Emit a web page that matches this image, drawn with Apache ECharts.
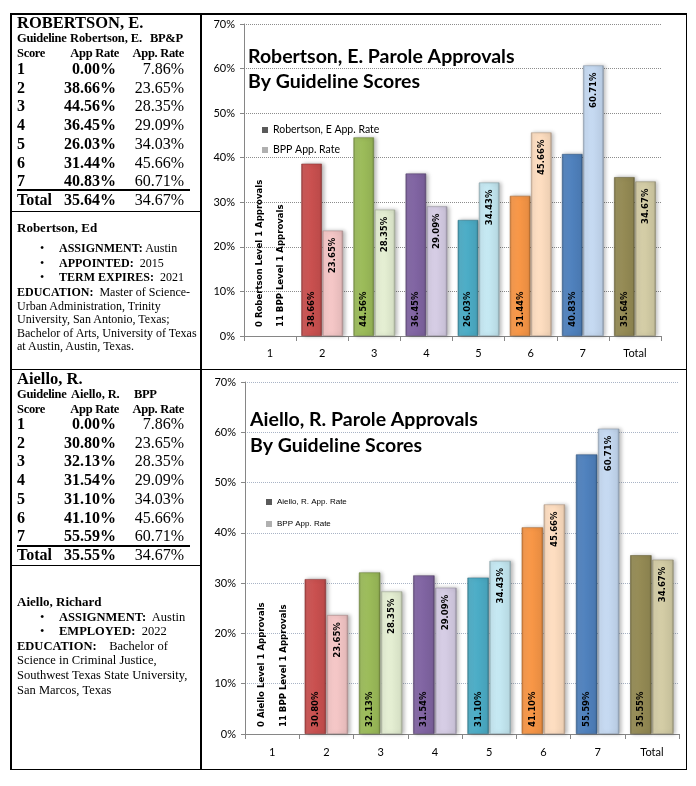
<!DOCTYPE html>
<html><head><meta charset="utf-8">
<script src="https://cdn.jsdelivr.net/npm/echarts@6/dist/echarts.min.js"></script>
<style>
html,body{margin:0;padding:0;background:#fff;}
#page{position:relative;width:696px;height:786px;overflow:hidden;font-family:'Liberation Serif','Times New Roman',serif;color:#000;}
.ln{position:absolute;background:#000;}
.t{position:absolute;white-space:nowrap;height:20px;line-height:20px;}
.chart{position:absolute;}
</style></head>
<body><div id="page">
<div id="c1" class="chart" style="left:201px;top:14px;width:485px;height:355px;"></div>
<div id="c2" class="chart" style="left:201px;top:370px;width:485px;height:399px;"></div>
</div>
<script>
// ---------- data ----------
const categories = ['1','2','3','4','5','6','7','Total'];
const robertsonRate = [0, 38.66, 44.56, 36.45, 26.03, 31.44, 40.83, 35.64];
const aielloRate    = [0, 30.80, 32.13, 31.54, 31.10, 41.10, 55.59, 35.55];
const bppChartRate  = [0, 23.65, 28.35, 29.09, 34.43, 45.66, 60.71, 34.67];
const bppTableRate  = [7.86, 23.65, 28.35, 29.09, 34.03, 45.66, 60.71, 34.67];
const yMin = 0, yMax = 70, yStep = 10;
const robertsonNotes = ['0 Robertson Level 1 Approvals', '11 BPP Level 1 Approvals'];
const aielloNotes = ['0 Aiello Level 1 Approvals', '11 BPP Level 1 Approvals'];
const darkColors  = ['#C9504F','#C9504F','#9BBB59','#8064A2','#4BACC6','#F79646','#4F81BD','#948A54'];
const lightColors = ['#F4C6C6','#F4C6C6','#E4EED2','#D5CCE4','#C4E8F2','#FDDDC0','#C5D9F1','#D3CCA5'];

// ---------- left column ----------
const page = document.getElementById('page');
function line(x,y,w,h){const d=document.createElement('div');d.className='ln';Object.assign(d.style,{left:x+'px',top:y+'px',width:w+'px',height:h+'px'});page.appendChild(d);}
function txt(html,x,cy,size,opts){
  opts=opts||{};
  const d=document.createElement('div');d.className='t';d.innerHTML=html;
  d.style.top=(cy-10)+'px';d.style.fontSize=size+'px';
  if(opts.right!==undefined){d.style.right=(696-opts.right)+'px';}else{d.style.left=x+'px';}
  if(opts.bold)d.style.fontWeight='bold';
  if(opts.ls)d.style.letterSpacing=opts.ls+'px';
  page.appendChild(d);
}
// frame
line(10,13,677,1.5); line(10,768.5,677,1.5); line(10,13,1.5,757); line(685.5,13,1.5,757);
line(200,13,1.5,757); line(10,368.5,677,1.5); line(10,210.5,191,1.5); line(10,564.5,191,1.5);

function table(cfg){
  txt(cfg.name,17,cfg.nameY,16.5,{bold:true});
  txt(cfg.hdr[0],17,cfg.hdrY,12.5,{bold:true,ls:-0.3});
  txt(cfg.hdr[1],cfg.hdrX[1],cfg.hdrY,12.5,{bold:true,ls:-0.1});
  txt(cfg.hdr[2],cfg.hdrX[2],cfg.hdrY,12.5,{bold:true,ls:-0.3});
  txt('Score',17,cfg.hdrY+15,12.5,{bold:true,ls:-0.3});
  txt('App Rate',0,cfg.hdrY+15,12.5,{bold:true,ls:-0.3,right:119});
  txt('App. Rate',0,cfg.hdrY+15,12.5,{bold:true,ls:-0.3,right:184});
  for(let i=0;i<categories.length;i++){
    const y=cfg.rowY0+i*18.7;
    txt(categories[i],17,y,16,{bold:true});
    txt(cfg.rate[i].toFixed(2)+'%',0,y,16,{bold:true,right:116});
    txt(bppTableRate[i].toFixed(2)+'%',0,y,16,{right:184});
  }
  line(17,cfg.ruleY,173,2);
}
table({name:'ROBERTSON, E.',nameY:23,hdr:['Guideline','Robertson, E.','BP&amp;P'],hdrX:[17,70,150],hdrY:38,rowY0:69,ruleY:189,rate:robertsonRate});
table({name:'Aiello, R.',nameY:379,hdr:['Guideline','Aiello, R.','BPP'],hdrX:[17,71,134],hdrY:394,rowY0:424,ruleY:545,rate:aielloRate});

function bio(lines,size){
  lines.forEach(l=>{
    if(l.b){txt('&bull;',40,l.y,size);txt(l.h,59,l.y,size);}
    else txt(l.h,17,l.y,l.s||size,{bold:l.bold});
  });
}
bio([
 {y:228,h:'Robertson, Ed',bold:true,s:13},
 {y:248,b:1,h:'<b>ASSIGNMENT:</b> Austin'},
 {y:262.5,b:1,h:'<b>APPOINTED:</b>&nbsp; 2015'},
 {y:277,b:1,h:'<b>TERM EXPIRES:</b>&nbsp; 2021'},
 {y:292,h:'<b>EDUCATION:</b>&nbsp; Master of Science-'},
 {y:305.5,h:'Urban Administration, Trinity'},
 {y:319,h:'University, San Antonio, Texas;'},
 {y:332.5,h:'Bachelor of Arts, University of Texas'},
 {y:346,h:'at Austin, Austin, Texas.'}
],12);
bio([
 {y:602,h:'Aiello, Richard',bold:true,s:13},
 {y:617,b:1,h:'<b>ASSIGNMENT:</b>&nbsp; Austin'},
 {y:631,b:1,h:'<b>EMPLOYED:</b>&nbsp; 2022'},
 {y:645.5,h:'<b>EDUCATION:</b>&nbsp;&nbsp;&nbsp; Bachelor of'},
 {y:660,h:'Science in Criminal Justice,'},
 {y:675,h:'Southwest Texas State University,'},
 {y:690,h:'San Marcos, Texas'}
],12.5);

// ---------- charts ----------
function shade(hex,f){const n=parseInt(hex.slice(1),16);const c=[n>>16,(n>>8)&255,n&255].map(v=>f<0?Math.round(v*(1+f)):Math.round(v+(255-v)*f));return 'rgb('+c.join(',')+')';}
function fill(c){return new echarts.graphic.LinearGradient(0,0,1,0,[
  {offset:0,color:shade(c,-0.22)},{offset:0.1,color:shade(c,0.06)},{offset:0.5,color:c},{offset:0.9,color:shade(c,-0.06)},{offset:1,color:shade(c,-0.3)}]);}
const labelFont="'Liberation Sans Narrow','DejaVu Sans Condensed',sans-serif";
const clearItem={color:'rgba(0,0,0,0)',borderWidth:0,shadowBlur:0,shadowColor:'rgba(0,0,0,0)'};

function makeOption(cfg){
  const darkData=cfg.rate.map((v,i)=>i===0?{value:v,itemStyle:clearItem,label:{formatter:cfg.notes[0],fontSize:9.5}}:{value:v,itemStyle:{color:fill(darkColors[i]),borderColor:shade(darkColors[i],-0.3),borderWidth:0.6}});
  const lightData=bppChartRate.map((v,i)=>i===0?{value:v,itemStyle:clearItem,label:{formatter:cfg.notes[1],fontSize:9.5,position:'insideBottom',align:'left',distance:cfg.labDist}}:{value:v,itemStyle:{color:fill(lightColors[i]),borderColor:shade(lightColors[i],-0.3),borderWidth:0.6}});
  const lab={show:true,rotate:90,verticalAlign:'middle',fontFamily:labelFont,fontWeight:'bold',fontSize:9.5,color:'#000'};
  const shadow={shadowColor:'rgba(0,0,0,0.28)',shadowBlur:4,shadowOffsetX:2};
  return {
    animation:false,
    title:{text:cfg.title,left:cfg.titleLeft,top:cfg.titleTop,padding:0,textStyle:{fontFamily:'Lato',fontWeight:'bold',fontSize:cfg.titleSize,lineHeight:cfg.titleLH,color:'#000'}},
    legend:{orient:'vertical',left:cfg.legLeft,top:cfg.legTop,icon:'rect',itemWidth:6,itemHeight:6,itemGap:cfg.legGap,
      textStyle:{fontFamily:cfg.legFont,fontSize:cfg.legSize,color:'#000'},
      data:[{name:cfg.names[0],itemStyle:{color:'#5a5a5a'}},{name:cfg.names[1],itemStyle:{color:'#b0b0b0'}}]},
    grid:cfg.grid,
    xAxis:{type:'category',data:categories,
      axisLine:{lineStyle:{color:'#868686',width:1}},
      axisTick:{show:true,length:5,lineStyle:{color:'#868686'}},
      axisLabel:{fontFamily:'Lato',fontSize:11,color:'#000',margin:cfg.xMargin}},
    yAxis:{type:'value',min:yMin,max:yMax,interval:yStep,
      axisLine:{show:true,lineStyle:{color:'#868686',width:1}},
      axisTick:{show:true,length:4,lineStyle:{color:'#868686'}},
      axisLabel:{formatter:'{value}%',fontFamily:'Lato',fontSize:11,color:'#000',margin:9},
      splitLine:{lineStyle:{type:'dotted',color:cfg.gridColor,width:1}}},
    series:[
      {type:'bar',name:cfg.names[0],data:darkData,barCategoryGap:'20%',barGap:'3%',itemStyle:Object.assign({color:'#5a5a5a'},shadow),
        label:Object.assign({},lab,{position:'insideBottom',align:'left',distance:cfg.labDist,formatter:p=>p.value.toFixed(2)+'%'})},
      {type:'bar',name:cfg.names[1],data:lightData,itemStyle:Object.assign({color:'#b0b0b0'},shadow),
        label:Object.assign({},lab,{position:'insideTop',align:'right',distance:7,formatter:p=>p.value.toFixed(2)+'%'})}
    ]
  };
}
const ch1=echarts.init(document.getElementById('c1'));
ch1.setOption(makeOption({rate:robertsonRate,notes:robertsonNotes,names:['Robertson, E App. Rate','BPP App. Rate'],
  title:'Robertson, E. Parole Approvals\nBy Guideline Scores',titleLeft:47,titleTop:30.5,titleSize:19.5,titleLH:25,
  legLeft:56,legTop:105.5,legGap:9,legFont:'Lato',legSize:10.5,
  grid:{left:43,top:10,width:417,height:312},xMargin:12,gridColor:'#8c8c8c',labDist:9}));
const ch2=echarts.init(document.getElementById('c2'));
ch2.setOption(makeOption({rate:aielloRate,notes:aielloNotes,names:['Aiello, R. App. Rate','BPP App. Rate'],
  title:'Aiello, R. Parole Approvals\nBy Guideline Scores',titleLeft:49,titleTop:37,titleSize:19.5,titleLH:26,
  legLeft:60,legTop:123,legGap:14,legFont:'Liberation Sans',legSize:8,
  grid:{left:44,top:12,width:434,height:352},xMargin:13,gridColor:'#a9b4c6',labDist:7}));
</script>
</body></html>
